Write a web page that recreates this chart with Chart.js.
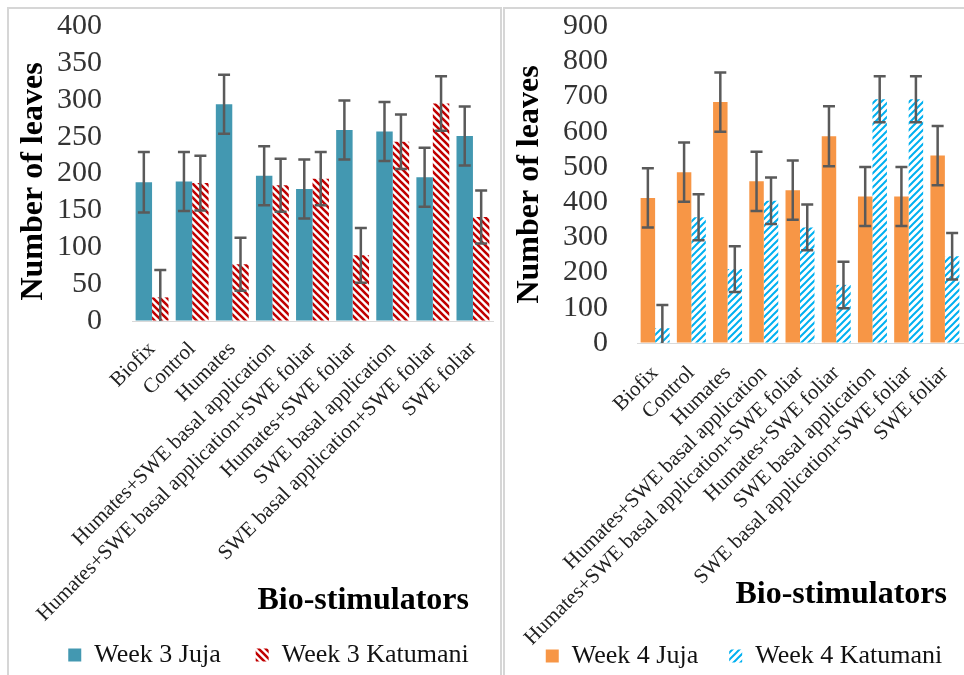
<!DOCTYPE html>
<html>
<head>
<meta charset="utf-8">
<script src="https://cdn.jsdelivr.net/npm/chart.js@4.4.1/dist/chart.umd.min.js"></script>
<style>
  html, body { margin: 0; padding: 0; background: #fff; overflow: hidden; width: 964px; height: 675px; }
  .panel { position: absolute; top: 7px; height: 720px; border: 2px solid #d6d6d6; box-sizing: border-box; }
  #p1 { left: 7px; width: 495px; }
  #p2 { left: 503px; width: 480px; }
  canvas { position: absolute; }
  #c1 { left: 10px; top: 8px; }
  #c2 { left: 506px; top: 8px; }
</style>
</head>
<body>
<div class="panel" id="p1"></div>
<div class="panel" id="p2"></div>
<canvas id="c1" width="517" height="713"></canvas>
<canvas id="c2" width="476" height="724"></canvas>
<script>
const categories = ['Biofix', 'Control', 'Humates', 'Humates+SWE basal application',
  'Humates+SWE basal application+SWE foliar', 'Humates+SWE foliar', 'SWE basal application',
  'SWE basal application+SWE foliar', 'SWE foliar'];

const week3Juja = [188, 189, 294, 197, 179, 259, 257, 195, 251];
const week3JujaErr = [41, 40, 40, 40, 40, 40, 40, 40, 40];
const week3Katumani = [32, 187, 77, 184, 193, 89, 243, 295, 141];
const week3KatumaniErr = [37, 37, 36, 36, 36, 37, 37, 37, 36];

const week4Juja = [412, 485, 684, 459, 434, 587, 416, 416, 532];
const week4JujaErr = [84, 84, 84, 84, 84, 85, 84, 84, 84];
const week4Katumani = [42, 357, 210, 404, 328, 165, 692, 692, 246];
const week4KatumaniErr = [66, 65, 65, 66, 65, 66, 65, 65, 66];

const week3Ticks = { max: 400, step: 50 };
const week4Ticks = { max: 900, step: 100 };

const serif = "'Liberation Serif', 'Times New Roman', serif";
Chart.defaults.font.family = serif;

// striped fill for the Katumani bars
function hatch(color, width, rising) {
  const s = 7;
  const c = document.createElement('canvas');
  c.width = s; c.height = s;
  const g = c.getContext('2d');
  g.fillStyle = '#fff';
  g.fillRect(0, 0, s, s);
  g.strokeStyle = color;
  g.lineWidth = width;
  g.beginPath();
  if (rising) {
    g.moveTo(0, s); g.lineTo(s, 0);
    g.moveTo(-1, 1); g.lineTo(1, -1);
    g.moveTo(s - 1, s + 1); g.lineTo(s + 1, s - 1);
  } else {
    g.moveTo(0, 0); g.lineTo(s, s);
    g.moveTo(s - 1, -1); g.lineTo(s + 1, 1);
    g.moveTo(-1, s - 1); g.lineTo(1, s + 1);
  }
  g.stroke();
  return g.createPattern(c, 'repeat');
}

const errorBars = {
  id: 'errorBars',
  afterDatasetsDraw(chart) {
    const { ctx, chartArea } = chart;
    const y = chart.scales.y;
    ctx.save();
    ctx.beginPath();
    ctx.rect(chartArea.left, chartArea.top - 30, chartArea.width, chartArea.height + 30);
    ctx.clip();
    ctx.strokeStyle = '#5a5a5a';
    ctx.lineWidth = 2.5;
    chart.data.datasets.forEach((ds, i) => {
      chart.getDatasetMeta(i).data.forEach((bar, j) => {
        const hi = y.getPixelForValue(ds.data[j] + ds.errors[j]);
        const lo = y.getPixelForValue(ds.data[j] - ds.errors[j]);
        ctx.beginPath();
        ctx.moveTo(bar.x, hi); ctx.lineTo(bar.x, lo);
        ctx.moveTo(bar.x - 6, hi); ctx.lineTo(bar.x + 6, hi);
        ctx.moveTo(bar.x - 6, lo); ctx.lineTo(bar.x + 6, lo);
        ctx.stroke();
      });
    });
    ctx.restore();
  }
};

// the long category labels need a tall x axis; pull the legend up over its empty part
const legendShift = {
  id: 'legendShift',
  afterLayout(chart, args, opts) {
    chart.legend.top -= opts.dy;
    chart.legend.bottom -= opts.dy;
  }
};

function makeChart(id, o) {
  return new Chart(document.getElementById(id), {
    type: 'bar',
    data: {
      labels: categories,
      datasets: [
        { label: o.names[0], data: o.a, errors: o.aErr, backgroundColor: o.colorA, borderWidth: 0, yAxisID: 'y' },
        { label: o.names[1], data: o.b, errors: o.bErr, backgroundColor: o.colorB, borderWidth: 0, yAxisID: 'y' }
      ]
    },
    options: {
      responsive: false,
      animation: false,
      events: [],
      layout: { padding: 0 },
      datasets: { bar: { categoryPercentage: o.catPct, barPercentage: 1 } },
      scales: {
        x: {
          grid: { display: false, drawTicks: false },
          border: { display: true, color: '#d9d9d9', width: 1 },
          ticks: { autoSkip: false, minRotation: 45, maxRotation: 45, padding: o.labelPad, color: '#222',
                   font: { family: serif, size: 21 } },
          title: { display: true, text: o.xTitle, align: 'end', color: '#000',
                   font: { family: serif, size: 32, weight: 'bold' }, padding: { top: 0, bottom: o.titlePad } },
          afterFit: s => { s.height = o.xHeight; }
        },
        y: {
          min: 0, max: o.ticks.max,
          // invisible tick marks keep the labels away from the bars
          grid: { display: true, color: 'rgba(0,0,0,0)', drawOnChartArea: false, drawTicks: true, tickLength: o.tickPad },
          border: { display: false },
          ticks: { stepSize: o.ticks.step, autoSkip: false, padding: 0, color: '#333',
                   font: { family: serif, size: 30 } },
          title: { display: true, text: o.yTitle, color: '#000',
                   font: { family: serif, size: 32, weight: 'bold' }, padding: { top: 5, bottom: 0 } },
          afterFit: s => { s.width = o.yWidth; }
        },
        y2: {
          type: 'linear', position: 'right',
          grid: { display: false, drawTicks: false },
          border: { display: false },
          ticks: { display: false },
          afterFit: s => { s.width = o.rightGap; }
        }
      },
      plugins: {
        legend: {
          position: 'bottom',
          labels: { boxWidth: 13, boxHeight: 13, padding: o.legendPad, color: '#111',
                    font: { family: serif, size: 26 } }
        },
        legendShift: { dy: o.legendShift },
        tooltip: { enabled: false }
      }
    },
    plugins: [errorBars, legendShift]
  });
}

makeChart('c1', {
  names: ['Week 3 Juja', 'Week 3 Katumani'],
  a: week3Juja, aErr: week3JujaErr, b: week3Katumani, bErr: week3KatumaniErr,
  colorA: '#4398b1', colorB: hatch('#c00000', 2.6, false),
  ticks: week3Ticks, catPct: 0.82,
  xTitle: 'Bio-stimulators   ', yTitle: 'Number of leaves  ',
  xHeight: 329, titlePad: 30, labelPad: 16, yWidth: 122, tickPad: 30, rightGap: 34,
  legendPad: 35, legendShift: 43
});

makeChart('c2', {
  names: ['Week 4 Juja', 'Week 4 Katumani'],
  a: week4Juja, aErr: week4JujaErr, b: week4Katumani, bErr: week4KatumaniErr,
  colorA: '#f79646', colorB: hatch('#00b0f0', 2, true),
  ticks: week4Ticks, catPct: 0.8,
  xTitle: 'Bio-stimulators  ', yTitle: 'Number of leaves',
  xHeight: 322, titlePad: 51, labelPad: 18, yWidth: 131, tickPad: 29, rightGap: 19,
  legendPad: 31, legendShift: 53
});
</script>
</body>
</html>
